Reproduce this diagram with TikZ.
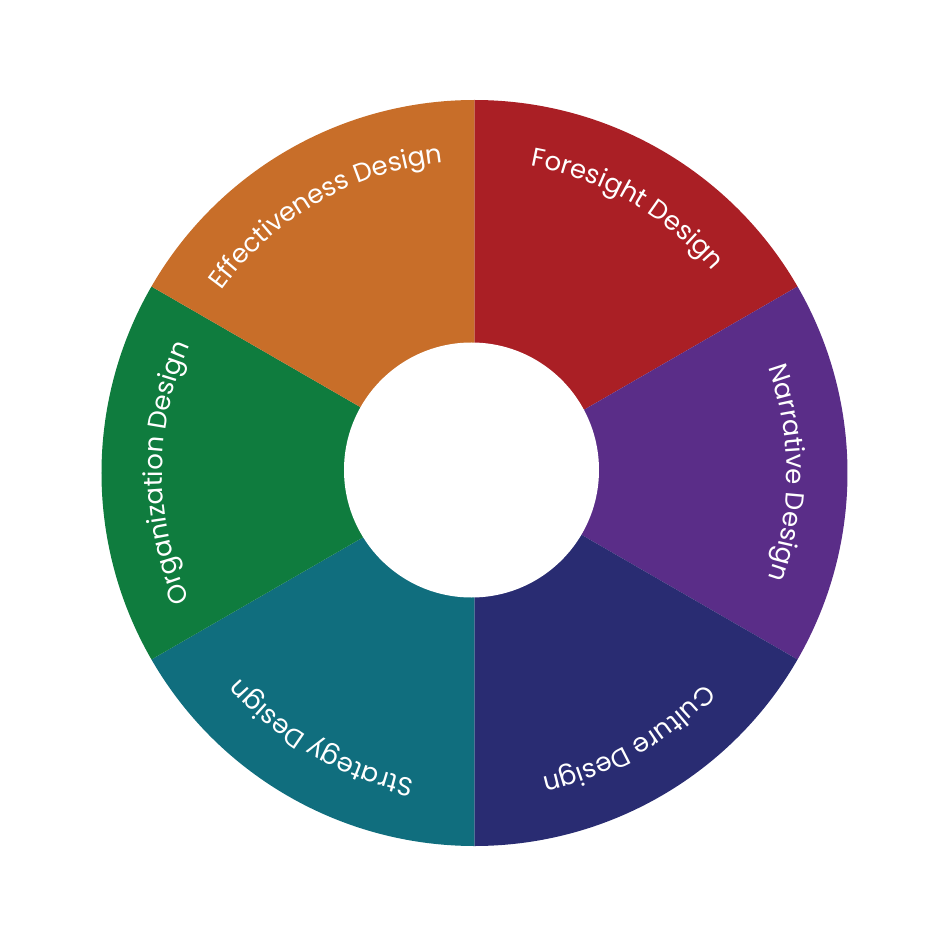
\documentclass[tikz,border=0pt]{standalone}
\usepackage{fontspec}
\newfontfamily\popfont{Poppins}
\usetikzlibrary{decorations.text}
\definecolor{cFore}{HTML}{AA1F25}
\definecolor{cNarr}{HTML}{5A2D88}
\definecolor{cCult}{HTML}{292C72}
\definecolor{cStra}{HTML}{106E7E}
\definecolor{cOrga}{HTML}{0F7C3E}
\definecolor{cEffe}{HTML}{C86E29}
\begin{document}
\begin{tikzpicture}[
  lbl/.style={decorate, decoration={text along path, text align=center,
     text={|\popfont\fontsize{26}{30}\selectfont\color{white}|#1}}}]
\useasboundingbox (-474.5pt,-475pt) rectangle (473.5pt,473pt);
\def\Ro{373pt}
\def\Rt{312pt}
\foreach \a/\c in {90/cFore,30/cNarr,-30/cCult,-90/cStra,-150/cOrga,-210/cEffe}{
  \fill[\c] (0,0) -- (\a:\Ro) arc[start angle=\a, end angle=\a-60, radius=\Ro] -- cycle;
}
\fill[white] (-3pt,3pt) circle[radius=127.5pt];
\path[lbl={Foresight Design}] (90:\Rt) arc[start angle=90, end angle=30, radius=\Rt];
\path[lbl={Narrative Design}] (30:\Rt) arc[start angle=30, end angle=-30, radius=\Rt];
\path[lbl={Culture Design}] (-30:\Rt) arc[start angle=-30, end angle=-90, radius=\Rt];
\path[lbl={Strategy Design}] (-90:\Rt) arc[start angle=-90, end angle=-150, radius=\Rt];
\path[lbl={Organization Design}] (-150:\Rt) arc[start angle=-150, end angle=-210, radius=\Rt];
\path[lbl={Effectiveness Design}] (-210:\Rt) arc[start angle=-210, end angle=-270, radius=\Rt];
\end{tikzpicture}
\end{document}
